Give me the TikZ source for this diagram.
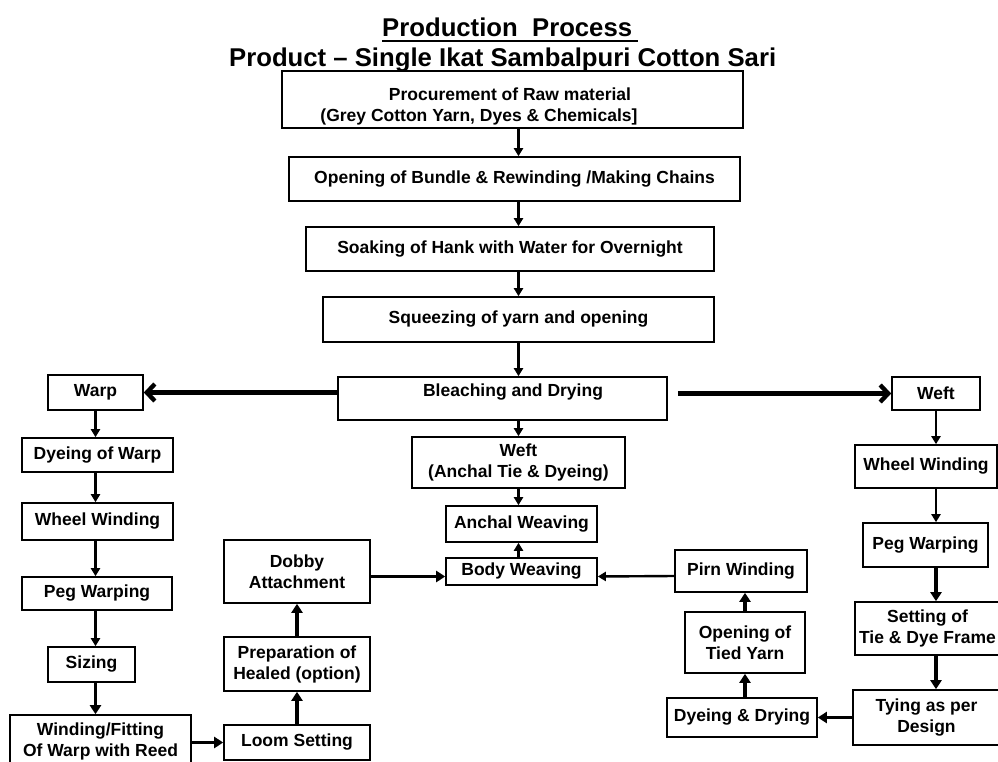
\documentclass[tikz,border=0pt]{standalone}
\usepackage{fontspec}
\setmainfont{Liberation Sans}
\usetikzlibrary{arrows.meta}
\newcommand\boxfont{\fontsize{17.5}{21}\selectfont\bfseries}
\newcommand\titlefont{\fontsize{25.7}{30}\selectfont\bfseries}
\newcommand\bx[6]{\node[box, minimum width={#4-#2}, minimum height={#5-#3}] (#1) at ({(#2+#4)/2},{(#3+#5)/2}) {#6};}
\begin{document}
\begin{tikzpicture}[x=1pt,y=-1pt,
  box/.style={draw, line width=1.6pt, fill=white, inner sep=0pt, align=center, font=\boxfont},
  txt/.style={inner sep=0pt, font=\boxfont},
  arr/.style={-{Triangle[length=8pt,width=9pt]}, line width=2.4pt},
  arrB/.style={-{Triangle[length=9pt,width=11pt]}, line width=3.4pt},
  big/.style={-{Straight Barb[length=8pt,width=17pt]}, line width=4.4pt}]
\useasboundingbox (0,0) rectangle (998,762);
% central column
\bx{proc}{282}{71}{743}{128}{}
\node[txt, anchor=base] (proc1) at (510,101) {Procurement of Raw material};
\node[txt, anchor=base] (proc2) at (479,122) {(Grey Cotton Yarn, Dyes \& Chemicals]};
\bx{open}{289}{157}{740}{201}{Opening of Bundle \& Rewinding /Making Chains}
\bx{soak}{306}{227}{714}{271}{Soaking of Hank with Water for Overnight}
\bx{squeeze}{323}{297}{714}{342}{Squeezing of yarn and opening}
\bx{bleach}{338}{377}{667}{420}{}
\node[txt, anchor=base] (bleacht) at (513,396) {Bleaching and Drying};
\bx{wefta}{412}{437}{625}{488}{Weft\\(Anchal Tie \& Dyeing)}
\bx{anchal}{446}{506}{597}{542}{Anchal Weaving}
\bx{body}{446}{558}{597}{585}{Body Weaving}
% left column
\bx{warp}{48}{375}{143}{410}{Warp}
\bx{dyew}{22}{438}{173}{472}{Dyeing of Warp}
\bx{wheell}{22}{503}{173}{540}{Wheel Winding}
\bx{pegl}{22}{577}{172}{610}{Peg Warping}
\bx{sizing}{48}{647}{135}{682}{Sizing}
\bx{windfit}{10}{715}{191}{768}{Winding/Fitting\\Of Warp with Reed}
\bx{loom}{224}{725}{370}{760}{Loom Setting}
\bx{prep}{224}{637}{370}{691}{Preparation of\\Healed (option)}
\bx{dobby}{224}{540}{370}{603}{Dobby\\Attachment}
% right column
\bx{weft}{892}{377}{980}{410}{Weft}
\bx{wheelr}{855}{445}{997}{488}{Wheel Winding}
\bx{pegr}{863}{523}{988}{567}{Peg Warping}
\bx{setting}{855}{602}{1000}{655}{Setting of\\Tie \& Dye Frame}
\bx{tying}{853}{690}{1000}{745}{Tying as per\\Design}
\bx{pirn}{675}{550}{807}{592}{Pirn Winding}
\bx{opent}{685}{612}{805}{673}{Opening of\\Tied Yarn}
\bx{dyed}{667}{698}{817}{737}{Dyeing \& Drying}
% central arrows
\draw[arr] (proc.south -| squeeze.north) -- (open.north -| squeeze.north);
\draw[arr] (open.south -| squeeze.north) -- (soak.north -| squeeze.north);
\draw[arr] (soak.south -| squeeze.north) -- (squeeze.north);
\draw[arr] (squeeze.south) -- (bleach.north -| squeeze.south);
\draw[arr] (bleach.south -| wefta.north) -- (wefta.north);
\draw[arr] (wefta.south) -- (anchal.north -| wefta.south);
\draw[arr] (body.north -| wefta.south) -- (anchal.south -| wefta.south);
\draw[big] (bleach.west |- warp.east) -- (warp.east);
\draw[big] ([xshift=10pt]bleach.east |- weft.west) -- (weft.west);
% left arrows
\draw[arr] (warp.south) -- (dyew.north -| warp.south);
\draw[arr] (dyew.south -| warp.south) -- (wheell.north -| warp.south);
\draw[arr] (wheell.south -| warp.south) -- (pegl.north -| warp.south);
\draw[arr] (pegl.south -| warp.south) -- (sizing.north -| warp.south);
\draw[arrB] (sizing.south -| warp.south) -- (windfit.north -| warp.south);
\draw[arrB] (windfit.east |- loom.west) -- (loom.west);
\draw[arrB] (loom.north) -- (prep.south);
\draw[arrB] (prep.north) -- (dobby.south);
\draw[arrB] ([yshift=-5pt]dobby.east) -- ([yshift=-5pt]body.west);
% right arrows
\draw[arr] (weft.south) -- (wheelr.north -| weft.south);
\draw[arr] (wheelr.south -| weft.south) -- (pegr.north -| weft.south);
\draw[arrB] (pegr.south -| weft.south) -- (setting.north -| weft.south);
\draw[arrB] (setting.south -| weft.south) -- (tying.north -| weft.south);
\draw[arrB] (tying.west |- dyed.east) -- (dyed.east);
\draw[arrB] (opent.south |- dyed.north) -- (opent.south);
\draw[arrB] (opent.north) -- (pirn.south -| opent.north);
\draw[arr] ([yshift=-5pt]pirn.west) -- ([yshift=-5pt]body.east);
% title
\node[anchor=base west, inner sep=0pt, font=\titlefont] (t1) at (382,37) {Production\ \ Process};
\draw[line width=1.6pt] ([yshift=-4pt]t1.base west) -- ([yshift=-4pt,xshift=6pt]t1.base east);
\node[anchor=base west, inner sep=0pt, font=\titlefont] (t2) at (229,67) {Product \textendash{} Single Ikat Sambalpuri Cotton Sari};
\end{tikzpicture}
\end{document}
